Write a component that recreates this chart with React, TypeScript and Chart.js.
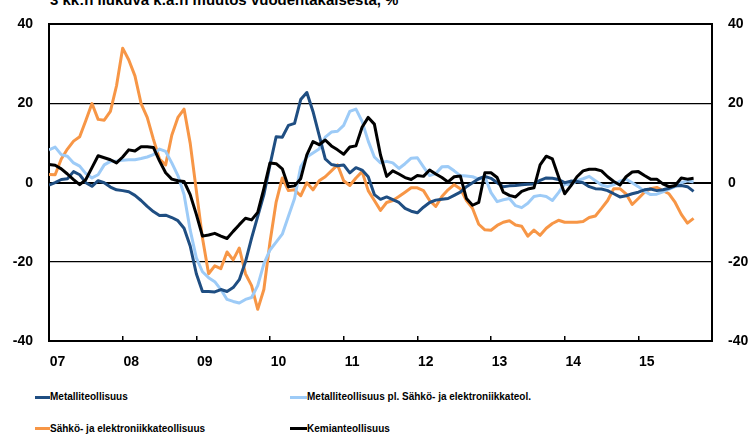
import React, { useEffect, useRef } from "react";
import { Chart, registerables } from "chart.js";

Chart.register(...registerables);

const TITLE = "3 kk:n liukuva k.a:n muutos vuodentakaisesta, %";
const YEAR_LABELS = ["07", "08", "09", "10", "11", "12", "13", "14", "15"];
const Y_TICKS = [-40, -20, 0, 20, 40];

// Monthly values, Jan 2007 onwards
const METAL = [
  -0.6, 0, 0.8, 1, 2.8, 2, 0, -0.9, 0.5, 0, -1.1, -1.8,
  -2, -2.3, -3.2, -4.5, -6, -7.3, -8.3, -8.2, -8.8, -9.6, -11.5, -16,
  -23, -27.5, -27.5, -27.6, -27, -27.5, -26.5, -24.5, -20, -14, -8.5, -3,
  4.5, 11.6, 11.5, 14.5, 15, 21, 22.8, 18, 12, 6, 4.6, 4.3,
  4.5, 2.5, 3.8, 3.2, 1.5, -3, -4.2, -3.6, -4.3, -5, -6.5, -7.2,
  -7.6, -6.2, -5, -4.4, -4.2, -4, -3.2, -2.4, -1, 0, 1, 1.6,
  1.1, 0, -1, -0.8, -0.7, -0.5, -0.4, -0.3, 0.6, 1.2, 1.1, 0.8,
  0, 0.4, 0.3, 0, -1, -1.5, -1.6, -2, -2.8, -3.6, -3.3, -2.8,
  -2.4, -1.8, -1.6, -2, -1.8, -1.4, -0.8, -0.7, -1, -2.2,
];
const METAL_EXCL = [
  8.3, 9, 7.1, 6.7, 5, 4.2, 2.3, 1.2, 2, 4.5, 5.4, 5.4,
  5.7, 5.8, 5.8, 6.1, 6.5, 7.1, 8.5, 7.9, 5, 1.8, -3, -12,
  -19, -22.5, -24, -25, -27, -29.5, -30, -30.4, -29.5, -29, -26, -20.5,
  -17, -15, -13, -8.5, -4, 4, 6.5, 7.5, 8.5, 11.5, 12.8, 13,
  14.5, 18, 18.6, 15.5, 10.5, 6.5, 5, 5.4, 5, 3.6, 4.8, 6.2,
  6.3, 4, 1.8, 2.3, 4, 4.1, 3, 1.8, 1.7, 1.5, 0.9, 1.5,
  -2.5, -4.8, -4.3, -4, -5.8, -6.3, -5.2, -3.5, -3.2, -3.5, -4.5, -2.5,
  -0.3, -0.6, 0.5, 1, 1.6, 0.5, -0.6, -1, -0.5, 0.4, 0.9, 0,
  -1, -2.2, -3, -2.9, -2.3, -1.6, -1, 0, 0.5, 0.2,
];
const ELECTRONICS = [
  2.1, 2, 6, 8.5, 10.5, 11.6, 15.7, 20, 16, 15.8, 18, 24.5,
  34, 31, 27, 20, 16.5, 11, 6, 4.5, 12, 16.5, 18.6, 10,
  -2, -14, -23, -21, -21.7, -17.5, -19.5, -16.5, -23, -26, -32, -27,
  -15, -4.9, 1.2, -2, -1.8, -3.3, 0, -1.8, 0.5, 1.5, 3, 4.5,
  0.5, -0.7, 1.2, 2.8, -2, -4.5, -7, -5, -4.5, -3.5, -2.4, -1.3,
  -1.3, -2, -4.5, -6, -3.5, -1.8, -0.5, -1.5, -4.5, -6.5, -10.5, -11.9,
  -12, -10.8, -10, -9.6, -10.7, -11, -13.5, -12, -13.3, -11.5, -10.3, -9.5,
  -10, -10, -10, -9.8, -8.8, -8.4, -6.5, -4.5, -1.5, -1.5, -2.8, -5.5,
  -4, -2.4, -1.5, -1.2, -2, -2.8, -5, -8, -10.2, -9,
];
const CHEMICAL = [
  4.6, 4.4, 3.5, 2.2, 0.8, -0.5, 0.8, 3.8, 6.8, 6.3, 5.8, 5,
  6.5, 8.3, 8, 9.1, 9.1, 8.9, 5.5, 2.5, 0.9, 0.5, 0.3, -3,
  -8, -13.5, -13.2, -12.8, -13.5, -14.1, -12.3, -10.6, -9, -9.4, -7.5, -1.5,
  5, 4.8, 3.5, -1, -0.8, 1, 7, 10.4, 9.6, 10.8, 9.3, 8.3,
  7.2, 9, 9.3, 14, 16.5, 14.8, 7, 1.6, 3, 2.2, 1.3, 0.8,
  1.8, 1.6, 3.2, 2.2, 1.3, 0.2, 1.5, 1.7, -4, -5.7, -5, 2.5,
  2.5, 1.3, -2.4, -3.2, -3.6, -2.2, -1.6, -1.3, 4.5, 6.7, 6, 1.5,
  -2.8, -0.8, 1.5, 3, 3.4, 3.4, 3, 1.5, 0.3, -0.6, 1.5, 2.7,
  2.8, 1.8, 0.9, 0.9, -0.3, -1, -0.7, 1.2, 0.9, 1.1,
];

const SERIES = [
  { label: "Metalliteollisuus", data: METAL, color: "#1f4e82", order: 2 },
  { label: "Metalliteollisuus pl. Sähkö- ja elektroniikkateol.", data: METAL_EXCL, color: "#9dcbf7", order: 3 },
  { label: "Sähkö- ja elektroniikkateollisuus", data: ELECTRONICS, color: "#f79646", order: 4 },
  { label: "Kemianteollisuus", data: CHEMICAL, color: "#000000", order: 1 },
];

const tickFont = { family: "'Liberation Sans', Arial, sans-serif", size: 14, weight: "bold" as const };

export default function App() {
  const ref = useRef<HTMLCanvasElement | null>(null);

  useEffect(() => {
    if (!ref.current) return;
    const chart = new Chart(ref.current, {
      type: "line",
      data: {
        datasets: SERIES.map((s) => ({
          label: s.label,
          data: s.data.map((v, i) => ({ x: i, y: v })),
          borderColor: s.color,
          backgroundColor: s.color,
          borderWidth: 3,
          pointRadius: 0,
          tension: 0,
          order: s.order,
          borderJoinStyle: "round" as const,
        })),
      },
      options: {
        animation: false,
        responsive: false,
        maintainAspectRatio: false,
        layout: { padding: { top: 19, left: 0, right: 0, bottom: 0 } },
        plugins: { legend: { display: false }, tooltip: { enabled: false }, title: { display: false } },
        scales: {
          x: {
            type: "linear",
            position: "bottom",
            min: 0,
            max: 108,
            ticks: {
              stepSize: 12,
              autoSkip: false,
              maxRotation: 0,
              labelOffset: 8.5,
              padding: 18,
              color: "#000",
              font: tickFont,
              callback: (v: any) => {
                const idx = Math.round(Number(v) / 12);
                return YEAR_LABELS[idx] ?? "";
              },
            },
            grid: { drawOnChartArea: false, drawTicks: true, tickLength: -5, color: "#000", lineWidth: 1.5 },
            border: { display: true, color: "#000", width: 2 },
            afterFit: (scale: any) => { scale.height = 30; },
          },
          y: {
            type: "linear",
            position: "left",
            min: -40,
            max: 40,
            afterBuildTicks: (scale: any) => { scale.ticks = Y_TICKS.map((v) => ({ value: v })); },
            ticks: { color: "#000", font: tickFont, padding: 16 },
            grid: {
              drawTicks: false,
              color: "#000",
              lineWidth: (ctx: any) => (ctx.tick && Math.abs(ctx.tick.value) === 20 ? 1.2 : 2),
            },
            border: { display: true, color: "#000", width: 2 },
            afterFit: (scale: any) => { scale.width = 49; },
          },
          yR: {
            type: "linear",
            position: "right",
            min: -40,
            max: 40,
            afterBuildTicks: (scale: any) => { scale.ticks = Y_TICKS.map((v) => ({ value: v })); },
            ticks: { color: "#000", font: tickFont, padding: 16 },
            grid: { drawOnChartArea: false, drawTicks: false },
            border: { display: true, color: "#000", width: 2 },
            afterFit: (scale: any) => { scale.width = 44; },
          },
        },
      },
    });
    return () => chart.destroy();
  }, []);

  const legendText: React.CSSProperties = {
    position: "absolute",
    fontFamily: "'Liberation Sans Narrow', 'Arial Narrow', 'Liberation Sans', Arial, sans-serif",
    fontWeight: "bold",
    fontSize: 10,
    lineHeight: "12px",
    color: "#000",
    whiteSpace: "nowrap",
  };
  const legendPos = [
    { x: 35, y: 397 },
    { x: 290, y: 397 },
    { x: 35, y: 428.5 },
    { x: 290, y: 428.5 },
  ];

  return (
    <div style={{ position: "fixed", left: 0, top: 0, width: 756, height: 434, background: "#fff", overflow: "hidden" }}>
      <div
        style={{
          position: "absolute",
          left: 50,
          top: -8,
          fontFamily: "'Liberation Sans', Arial, sans-serif",
          fontWeight: "bold",
          fontSize: 15,
          lineHeight: "15px",
          whiteSpace: "nowrap",
          color: "#000",
        }}
      >
        {TITLE}
      </div>
      <canvas ref={ref} width={756} height={371} style={{ position: "absolute", left: 0, top: 0, width: 756, height: 371 }} />
      {SERIES.map((s, k) => (
        <div key={s.label} style={{ position: "absolute", left: legendPos[k].x, top: legendPos[k].y - 6, height: 12 }}>
          <div style={{ position: "absolute", left: 0, top: 4.5, width: k % 2 === 0 ? 15 : 17, height: 3, background: s.color }} />
          <div style={{ ...legendText, left: k % 2 === 0 ? 15 : 17, top: 0 }}>{s.label}</div>
        </div>
      ))}
    </div>
  );
}
